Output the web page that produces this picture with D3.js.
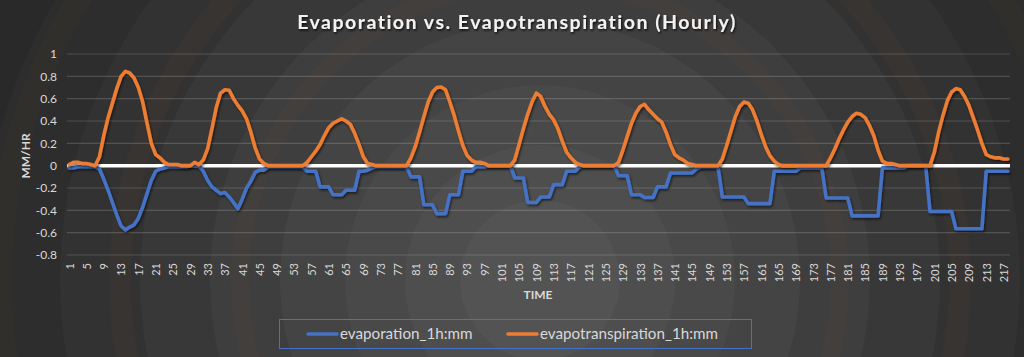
<!DOCTYPE html>
<html><head><meta charset="utf-8">
<script src="https://cdnjs.cloudflare.com/ajax/libs/d3/7.8.5/d3.min.js"></script>
<style>html,body{margin:0;padding:0;background:#2a2a2a;}svg{display:block;}</style>
</head><body>
<svg id="chart" width="1024" height="357"></svg>
<script>
// ---- data ----
const title = "Evaporation vs. Evapotranspiration (Hourly)";
const seriesNames = ["evaporation_1h:mm", "evapotranspiration_1h:mm"];
const hours = d3.range(1, 219);
const yTicks = [-0.8, -0.6, -0.4, -0.2, 0, 0.2, 0.4, 0.6, 0.8, 1];
const yTickLabels = ["-0.8", "-0.6", "-0.4", "-0.2", "0", "0.2", "0.4", "0.6", "0.8", "1"];
const xTickLabels = d3.range(1, 219, 4);
const evaporation = [
  -0.02,-0.02,-0.01,-0.01,-0.01,-0.01,-0.01,-0.03,-0.12,-0.22,
  -0.33,-0.44,-0.54,-0.575,-0.55,-0.53,-0.47,-0.37,-0.25,-0.13,
  -0.05,-0.03,-0.02,-0.01,-0.01,-0.01,-0.01,-0.01,0,0,
  0,-0.05,-0.13,-0.19,-0.22,-0.25,-0.24,-0.28,-0.33,-0.385,
  -0.30,-0.20,-0.14,-0.06,-0.04,-0.04,-0.01,-0.01,-0.01,-0.01,
  -0.01,-0.01,-0.01,-0.01,-0.01,-0.05,-0.05,-0.05,-0.19,-0.19,
  -0.19,-0.26,-0.26,-0.26,-0.22,-0.22,-0.22,-0.05,-0.05,-0.04,
  -0.02,-0.01,-0.01,-0.01,-0.01,-0.01,-0.01,-0.01,-0.01,-0.10,
  -0.10,-0.10,-0.35,-0.35,-0.35,-0.43,-0.43,-0.43,-0.26,-0.26,
  -0.26,-0.05,-0.05,-0.05,-0.01,-0.01,-0.01,0,0,0,
  0,0,0,-0.11,-0.11,-0.11,-0.33,-0.33,-0.33,-0.28,
  -0.28,-0.28,-0.17,-0.17,-0.17,-0.05,-0.05,-0.05,-0.01,0,
  0,0,0,0,0,0,0,-0.09,-0.09,-0.09,
  -0.26,-0.26,-0.26,-0.285,-0.285,-0.285,-0.19,-0.19,-0.19,-0.065,
  -0.065,-0.065,-0.065,-0.065,-0.065,-0.03,-0.01,-0.01,-0.01,-0.01,
  -0.01,-0.28,-0.28,-0.28,-0.28,-0.28,-0.28,-0.34,-0.34,-0.34,
  -0.34,-0.34,-0.34,-0.05,-0.05,-0.05,-0.05,-0.05,-0.05,-0.02,
  -0.02,-0.02,-0.02,-0.02,-0.02,-0.29,-0.29,-0.29,-0.29,-0.29,
  -0.29,-0.45,-0.45,-0.45,-0.45,-0.45,-0.45,-0.45,-0.02,-0.02,
  -0.02,-0.02,-0.02,-0.02,0,0,0,0,0,-0.41,
  -0.41,-0.41,-0.41,-0.41,-0.41,-0.565,-0.565,-0.565,-0.565,-0.565,
  -0.565,-0.565,-0.05,-0.05,-0.05,-0.05,-0.05,-0.05
];
const evapotranspiration = [
  0.01,0.03,0.03,0.02,0.02,0.01,0.00,0.08,0.27,0.43,
  0.56,0.69,0.80,0.845,0.83,0.785,0.70,0.57,0.38,0.20,
  0.10,0.07,0.03,0.01,0.01,0.01,0,0,0,0.03,
  0.01,0.05,0.15,0.33,0.52,0.65,0.68,0.675,0.60,0.54,
  0.49,0.42,0.30,0.16,0.06,0.02,0,0,0,0,
  0,0,0,0,0,0.03,0.08,0.13,0.19,0.27,
  0.34,0.38,0.40,0.42,0.40,0.37,0.29,0.19,0.08,0.02,
  0.01,0,0,0,0,0,0,0,0,0.07,
  0.17,0.30,0.44,0.57,0.66,0.70,0.705,0.68,0.57,0.45,
  0.31,0.18,0.09,0.05,0.03,0.03,0.02,0,0,0,
  0,0,0,0.05,0.19,0.33,0.46,0.57,0.65,0.62,
  0.53,0.46,0.41,0.33,0.22,0.12,0.07,0.03,0.01,0,
  0,0,0,0,0,0,0,0.03,0.14,0.26,
  0.38,0.47,0.53,0.55,0.50,0.46,0.42,0.39,0.30,0.19,
  0.10,0.07,0.05,0.02,0.01,0,0,0,0,0,
  0,0.06,0.18,0.31,0.44,0.53,0.57,0.56,0.50,0.40,
  0.28,0.17,0.09,0.04,0.01,0,0,0,0,0,
  0,0,0,0,0,0,0.07,0.15,0.24,0.32,
  0.39,0.44,0.47,0.46,0.43,0.36,0.27,0.14,0.04,0.02,
  0.02,0.01,0,0,0,0,0,0,0,0,
  0.12,0.30,0.45,0.58,0.66,0.69,0.68,0.62,0.54,0.43,
  0.32,0.20,0.10,0.08,0.07,0.07,0.06,0.06
];
const colors = ["#4472C4", "#ED7D31"];

// ---- drawing ----
const svg = d3.select("#chart");
const W = 1024, H = 357;
const defs = svg.append("defs");
const sh = defs.append("filter").attr("id","shadow").attr("x","-5%").attr("y","-20%").attr("width","110%").attr("height","140%");
sh.append("feDropShadow").attr("dx",1.2).attr("dy",1.8).attr("stdDeviation",1.2).attr("flood-color","#000").attr("flood-opacity",0.55);
const tsh = defs.append("filter").attr("id","tshadow");
tsh.append("feDropShadow").attr("dx",1).attr("dy",1.5).attr("stdDeviation",1.2).attr("flood-color","#000").attr("flood-opacity",0.8);

// background with concentric bands
svg.append("rect").attr("width",W).attr("height",H).attr("fill","#222222");
const cx = 540, cy = 280;
const bands = [
  [720,"#252525"],[640,"#292929"],[560,"#2d2d2d"],[480,"#323232"],[400,"#383838"],
  [330,"#3e3e3e"],[260,"#444444"],[195,"#494949"],[135,"#4e4e4e"],[80,"#535353"]
];
bands.forEach(([r,c]) => svg.append("circle").attr("cx",cx).attr("cy",cy).attr("r",r).attr("fill",c));
[[300,"rgba(120,80,45,0.10)",18],[420,"rgba(120,80,45,0.09)",22],[540,"rgba(120,80,45,0.07)",24]].forEach(([r,c,w]) =>
  svg.append("circle").attr("cx",cx).attr("cy",cy).attr("r",r).attr("fill","none").attr("stroke",c).attr("stroke-width",w));

const x = d3.scalePoint().domain(hours).range([67, 1010]).padding(0.5);
const y = d3.scaleLinear().domain([-0.8, 1]).range([255, 54]);
const x0 = 67, x1 = 1010;

// gridlines
svg.append("g").selectAll("line").data(yTicks.filter(d => d !== 0)).join("line")
  .attr("x1", x0).attr("x2", x1).attr("y1", d => y(d)).attr("y2", d => y(d))
  .attr("stroke", "rgba(255,255,255,0.16)").attr("stroke-width", 1.2);

// y axis labels
const yAxis = d3.axisLeft(y).tickValues(yTicks).tickFormat((d,i) => yTickLabels[i]).tickSize(0).tickPadding(0);
const gy = svg.append("g").attr("transform", "translate(57,0)").call(yAxis);
gy.select(".domain").remove();
gy.selectAll("text").attr("fill", "#d9d9d9").style("font-family","Lato, 'Open Sans', sans-serif").style("font-size","12px");

// x axis labels
const xAxis = d3.axisBottom(x).tickValues(xTickLabels).tickSize(0).tickPadding(0);
const gx = svg.append("g").attr("transform", "translate(0,262)").call(xAxis);
gx.select(".domain").remove();
gx.selectAll("text").attr("fill", "#d9d9d9").style("font-family","Lato, 'Open Sans', sans-serif").style("font-size","11px")
  .attr("transform","rotate(-90)").attr("text-anchor","end").attr("x",-1).attr("y",0).attr("dy","0.35em");

// zero line
svg.append("line").attr("x1", x0).attr("x2", x1).attr("y1", y(0)).attr("y2", y(0))
  .attr("stroke", "#ffffff").attr("stroke-width", 3.5);

// series
const line = d3.line().x((d,i) => x(hours[i])).y(d => y(d));
[evaporation, evapotranspiration].forEach((s, k) => {
  svg.append("path").datum(s).attr("d", line).attr("fill","none")
    .attr("stroke", colors[k]).attr("stroke-width", 3.6).attr("stroke-linejoin","round").attr("stroke-linecap","round")
    .attr("filter","url(#shadow)");
});

// titles
svg.append("text").attr("x", 517).attr("y", 29).attr("text-anchor","middle")
  .attr("fill","#f2f2f2").style("font-family","Lato, 'Open Sans', sans-serif").style("font-size","19.5px")
  .style("font-weight","bold").style("letter-spacing","1.5px").attr("filter","url(#tshadow)").text(title);
svg.append("text").attr("transform","translate(30,156) rotate(-90)").attr("text-anchor","middle")
  .attr("fill","#d9d9d9").style("font-family","Lato, 'Open Sans', sans-serif").style("font-size","12px").style("font-weight","bold").text("MM/HR");
svg.append("text").attr("x", 538).attr("y", 299).attr("text-anchor","middle")
  .attr("fill","#d9d9d9").style("font-family","Lato, 'Open Sans', sans-serif").style("font-size","12px").style("font-weight","bold").text("TIME");

// legend
svg.append("rect").attr("x",279.5).attr("y",319.5).attr("width",472).attr("height",29)
  .attr("fill","none").attr("stroke","#4472C4").attr("stroke-width",1);
const legX = [308, 508];
seriesNames.forEach((n, k) => {
  svg.append("line").attr("x1", legX[k]).attr("x2", legX[k] + 29).attr("y1", 334).attr("y2", 334)
    .attr("stroke", colors[k]).attr("stroke-width", 3.6).attr("stroke-linecap","round");
  svg.append("text").attr("x", legX[k] + 32).attr("y", 339).attr("fill","#d9d9d9")
    .style("font-family","Lato, 'Open Sans', sans-serif").style("font-size","15.2px").text(n);
});
</script>
</body></html>
